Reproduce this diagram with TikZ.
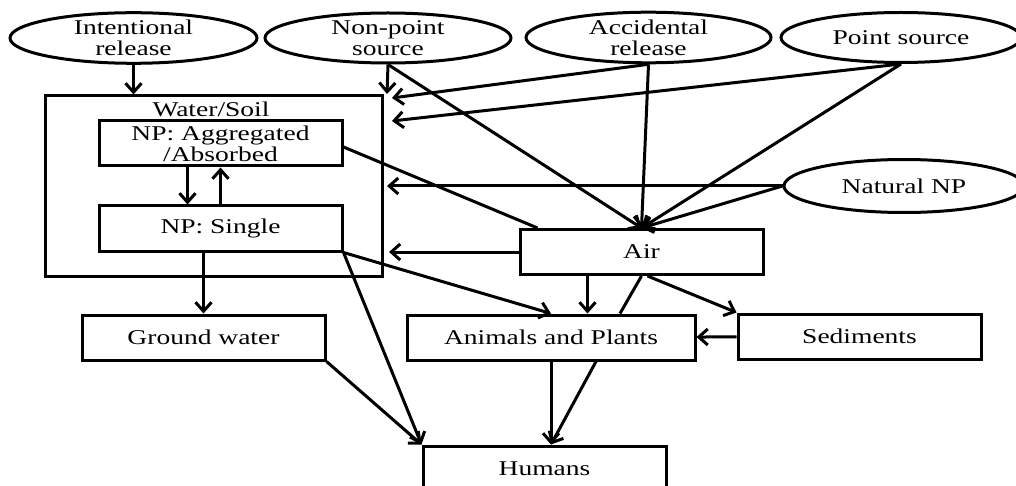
\documentclass[tikz,border=0pt]{standalone}
\usepackage{fontspec}
\setmainfont{Liberation Serif}[FakeStretch=1.31]
\usetikzlibrary{arrows.meta,shapes,positioning}
\tikzset{
  basic/.style  = {draw, line width=1.5pt, inner sep=0pt, align=center,
                   font=\fontsize{10.5}{10.5}\selectfont},
  source/.style = {basic, ellipse, minimum height=25pt},
  box/.style    = {basic, rectangle, minimum width=121.5pt,
                   minimum height=22.5pt},
  title/.style  = {inner sep=0pt, font=\fontsize{10.5}{10.5}\selectfont},
  link/.style   = {line width=1.5pt},
  flow/.style   = {link, ->}
}

\begin{document}
\begin{tikzpicture}[x=0.5pt, y=-0.5pt,
    >={Straight Barb[length=4.5pt,width=8pt]}]
  \useasboundingbox (0,0) rectangle (1016,486);

  % sources on top, natural NP on the right
  \node[source, minimum width=123.5pt] (intent) at (133.5,38) {Intentional\\release};
  \node[source, minimum width=123pt] (nonpoint) at (388,38) {Non-point\\source};
  \node[source, minimum width=122.5pt] (accident) at (648.5,37.5) {Accidental\\release};
  \node[source, minimum width=120pt] (point) at (901,37.5) {Point source};
  \node[source, minimum width=120pt, minimum height=26.5pt] (natural) at (904,186) {Natural NP};

  % the water/soil compartment with its two NP states
  \node[basic, minimum width=168.5pt, minimum height=90pt] (water) at (213.5,186) {};
  \node[title] (waterlabel) at (211,109) {Water/Soil};
  \node[box] (aggregated) at (220.5,143.5) {NP: Aggregated\\/Absorbed};
  \node[box] (single) at (220.5,228.5) {NP: Single};

  % the other compartments
  \node[box] (air) at (641.5,252) {Air};
  \node[box] (ground) at (203.5,337.5) {Ground water};
  \node[box, minimum width=144pt] (animals) at (551,337.5) {Animals and Plants};
  \node[box] (sediments) at (859.5,336.5) {Sediments};
  \node[box] (humans) at (544.5,468.5) {Humans};

  % arrow ends just right of the water/soil box
  \coordinate (in0) at (387,94);
  \coordinate (in1) at (392,98);
  \coordinate (in2) at (392,121);
  \coordinate (in3) at (387,186);
  \coordinate (in4) at (389,252);

  % releases into water/soil
  \draw[flow] (intent) -- (intent |- water.north);
  \draw[flow] (nonpoint.south) -- (in0);
  \draw[flow] (accident.south) -- (in1);
  \draw[flow] (point.south) -- (in2);
  \draw[flow] (natural.west) -- (in3);
  \draw[flow] (air.west) -- (in4);

  % releases into air
  \foreach \src/\anc in {nonpoint/south, accident/south, point/south, natural/west}
    \draw[flow] (\src.\anc) -- (air.north);

  % inside water/soil
  \draw[flow] ([xshift=-16.5pt]aggregated.south) -- ([xshift=-16.5pt]single.north);
  \draw[flow] (single.north) -- (aggregated.south);
  \draw[link] ([yshift=-1.75pt]aggregated.east) -- (air.167);

  % out of water/soil
  \draw[flow] (single.south -| ground.north) -- (ground.north);
  \draw[flow] (single.south east) -- (animals.north);
  \draw[flow] (single.south east) -- (humans.north west);
  \draw[flow] (ground.south east) -- (humans.north west);

  % air, sediments, animals and plants
  \draw[flow] ([xshift=-27pt]air.south) -- ([xshift=-27pt]air.south |- animals.north);
  \draw[link] ([xshift=34.5pt]animals.north) -- (air.south);
  \draw[flow] ([xshift=3pt]air.south) -- (sediments.north west);
  \draw[flow] (sediments) -- (animals);
  \draw[flow] (animals.south) -- (animals.south |- humans.north);
  \draw[flow] ([xshift=22.5pt]animals.south) -- (animals.south |- humans.north);
\end{tikzpicture}
\end{document}
